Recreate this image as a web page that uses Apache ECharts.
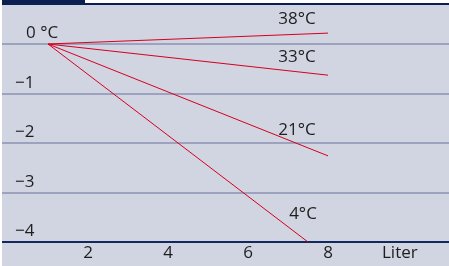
<!DOCTYPE html>
<html><head><meta charset="utf-8">
<script src="https://cdn.jsdelivr.net/npm/echarts@6/dist/echarts.min.js"></script>
<style>html,body{margin:0;padding:0;background:#fff;}#c{width:449px;height:266px;}</style>
</head><body><div id="c"></div>
<script>
// Data
const seriesNames = ['38°C', '33°C', '21°C', '4°C'];
const volX = [[1, 8], [1, 8], [1, 8], [1, 7.5]];
const tempY = [[0, 0.22], [0, -0.63], [0, -2.26], [0, -4]];
const xTicks = [2, 4, 6, 8];
const yTicks = [0, -1, -2, -3, -4];
const xName = 'Liter';

// Style
const labelOffsets = [[-31, -14], [-31, -18], [-31, -26], [-5, -28]];
const FONT = '"Open Sans", sans-serif';
const FS = 17;
const red = '#d7001d';

const chart = echarts.init(document.getElementById('c'));
const series = seriesNames.map((name, i) => ({
  type: 'line', name,
  data: volX[i].map((x, j) => {
    const item = { value: [x, tempY[i][j]] };
    if (j === volX[i].length - 1) {
      item.label = { show: true, position: 'inside', offset: labelOffsets[i],
        formatter: name, color: '#1e1e1e', fontSize: FS, fontFamily: FONT };
    }
    return item;
  }),
  showSymbol: true, symbolSize: 0, symbol: 'circle',
  lineStyle: { color: red, width: 1 },
  itemStyle: { color: red },
  clip: false, silent: true, animation: false
}));

chart.setOption({
  backgroundColor: '#ffffff',
  animation: false,
  graphic: [
    { type: 'rect', z: -10, shape: { x: 2, y: 4, width: 447, height: 262 }, style: { fill: '#d1d4e1' } },
    { type: 'rect', z: -9, shape: { x: 2, y: 0, width: 83, height: 5 }, style: { fill: '#0b2050' } },
    { type: 'rect', z: -9, shape: { x: 85, y: 3, width: 364, height: 2 }, style: { fill: '#0b2050' } },
    { type: 'text', left: 382, top: 245, style: { text: xName, fontSize: FS, fontFamily: FONT, fill: '#1e1e1e' } }
  ],
  grid: { left: 2, right: 0, top: 44, bottom: 24 },
  xAxis: {
    type: 'value', min: -0.15, max: 11.025,
    axisLine: { show: false },
    axisTick: { show: false },
    splitLine: { show: false },
    axisLabel: { customValues: xTicks, margin: 3, fontSize: FS, fontFamily: FONT, color: '#1e1e1e' }
  },
  yAxis: {
    type: 'value', min: -4, max: 0, interval: 1,
    axisLine: { show: false }, axisTick: { show: false },
    splitLine: { show: true, lineStyle: { color: '#9da2be', width: 2 } },
    axisLabel: {
      inside: true, margin: 13, verticalAlign: 'bottom', padding: [0, 0, 2, 0],
      fontSize: FS, fontFamily: FONT, color: '#1e1e1e',
      formatter: v => v === 0 ? '{z|0 °C}' : String(v).replace('-', '\u2212'),
      rich: { z: { padding: [0, 0, 0, 11], fontSize: FS, fontFamily: FONT, color: '#1e1e1e' } }
    }
  },
  series: series.concat([{
    type: 'line', data: [[-0.15, -4], [11.025, -4]], symbol: 'none',
    lineStyle: { color: '#13285e', width: 2 }, silent: true, z: 1
  }])
});
</script></body></html>
